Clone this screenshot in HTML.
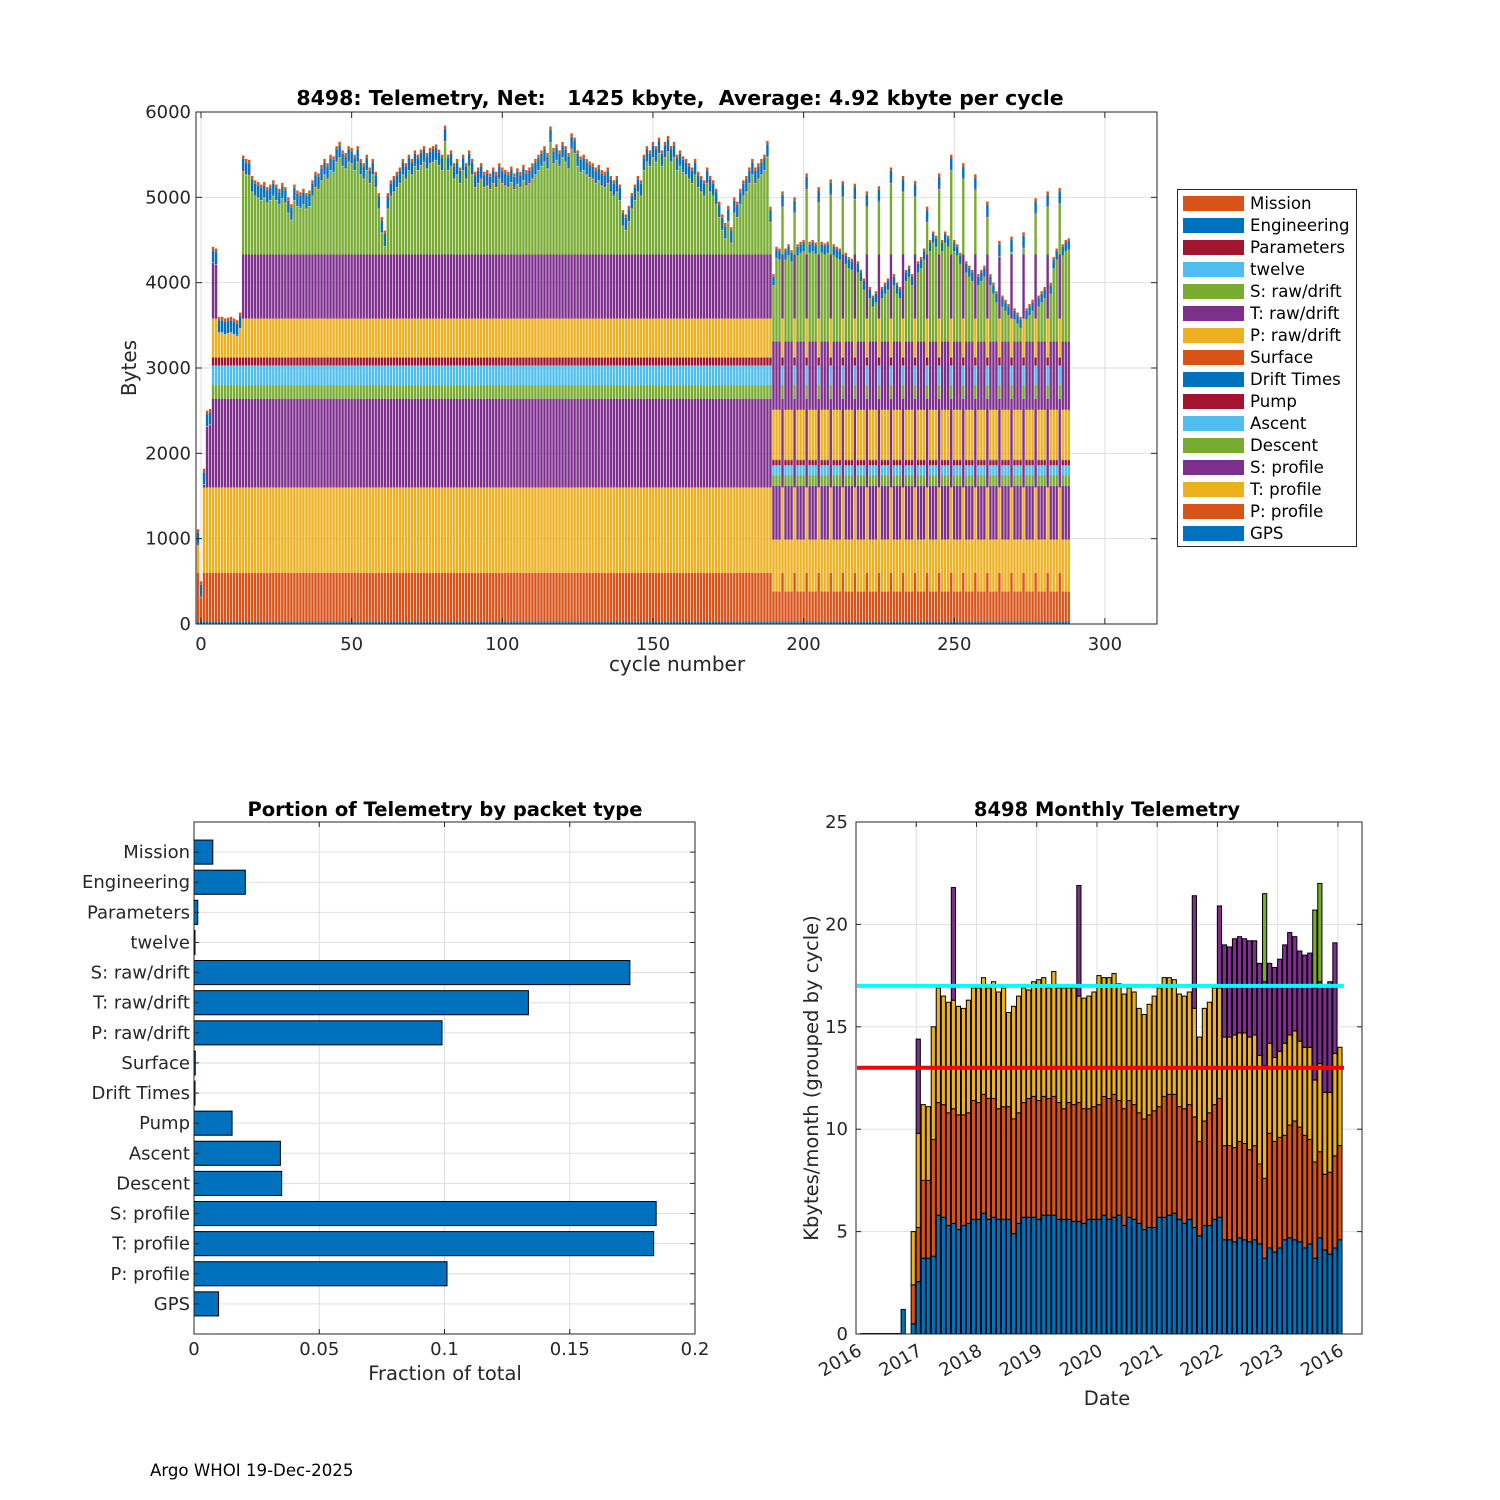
<!DOCTYPE html>
<html><head><meta charset="utf-8"><style>
html,body{margin:0;padding:0;background:#fff;}
svg{display:block;font-family:"DejaVu Sans","Liberation Sans",sans-serif;}
</style></head><body>
<svg id="fig" width="1500" height="1500" viewBox="0 0 1500 1500" xmlns="http://www.w3.org/2000/svg">
<rect x="0" y="0" width="1500" height="1500" fill="#fff"/>
<g id="top"></g>
<g id="bl"></g>
<g id="br"></g>
<text x="150" y="1476" font-size="16.6" fill="#000">Argo WHOI 19-Dec-2025</text>
</svg>
<script>
// ---------- TOP CHART DATA ----------
const layerNames = ['GPS','P: profile','T: profile','S: profile','Descent','Ascent','Pump','Drift Times','Surface','P: raw/drift','T: raw/drift','S: raw/drift','twelve','Parameters','Engineering','Mission'];
const layerColors = ['#0072BD','#D95319','#EDB120','#7E2F8E','#77AC30','#4DBEEE','#A2142F','#0072BD','#D95319','#EDB120','#7E2F8E','#77AC30','#4DBEEE','#A2142F','#0072BD','#D95319'];
const fullProfileBytes = [30,570,1000,1040,160,230,90,5,5,450,750,0,10,10,130,40];
const reducedProfileBytes = [30,350,610,630,120,120,60,5,5,580,800,0,0,0,100,30];
const firstCycle = -1;
const reducedFromCycle = 190;
const fullProfileCycles = [193,197,201,205,209,213,217,221,225,229,233,237,241,245,249,253,257,261,265,269,273,277,281,285];
const cycleTotals = [
1110,500,
1820,2500,2520,4420,4400,3600,3600,3580,3590,3600,
3580,3560,3650,5490,5450,5440,5250,5200,5180,5150,
5180,5120,5150,5200,5150,5100,5170,5120,5000,4920,
5150,5080,5060,5100,5050,5080,5200,5300,5280,5380,
5450,5400,5500,5480,5600,5650,5550,5520,5600,5580,
5500,5600,5450,5400,5500,5350,5450,5300,5050,4770,
4610,5050,5200,5250,5300,5350,5450,5400,5500,5450,
5550,5500,5560,5600,5520,5580,5600,5620,5560,5500,
5840,5500,5550,5400,5450,5350,5500,5400,5550,5450,
5300,5350,5400,5300,5320,5280,5350,5300,5400,5350,
5320,5300,5360,5280,5340,5300,5380,5320,5350,5400,
5450,5500,5550,5600,5520,5830,5580,5620,5550,5650,
5600,5520,5750,5700,5550,5480,5500,5450,5420,5400,
5350,5380,5320,5300,5350,5250,5200,5250,5150,4850,
4800,4900,5050,5150,5250,5200,5500,5600,5550,5650,
5600,5700,5550,5650,5720,5600,5650,5500,5550,5480,
5450,5400,5350,5450,5300,5250,5200,5350,5250,5200,
5100,4950,4800,4700,4900,4650,5000,4950,5100,5200,
5250,5350,5450,5350,5400,5450,5500,5660,4890,4100,
4420,4400,5070,4400,4450,4380,5000,4450,4480,4500,
5280,4480,4500,4470,5120,4480,4460,4480,5210,4450,
4420,4400,5190,4350,4300,4280,5160,4250,4150,4050,
5070,3950,3850,3900,5130,3950,4000,4050,5350,4100,
4000,3950,5250,4150,4200,4100,5190,4250,4300,4400,
4890,4500,4600,4550,5280,4500,4600,4550,5500,4500,
4450,4350,5400,4250,4200,4150,5270,4100,4150,4200,
4950,4100,4000,3900,4490,3850,3800,3750,4540,3700,
3650,3600,4590,3700,3750,3800,4990,3850,3900,3950,
5070,4000,4300,4400,5110,4450,4500,4520];
const topXTicks = [0,50,100,150,200,250,300];
const topYTicks = [0,1000,2000,3000,4000,5000,6000];

// ---------- BOTTOM-LEFT DATA ----------
const packetTypes = ['Mission','Engineering','Parameters','twelve','S: raw/drift','T: raw/drift','P: raw/drift','Surface','Drift Times','Pump','Ascent','Descent','S: profile','T: profile','P: profile','GPS'];
const packetFractions = [0.0075,0.0205,0.0015,0.0004,0.174,0.1335,0.099,0.0005,0.0004,0.0152,0.0345,0.035,0.1845,0.1835,0.101,0.0098];
const fracTicks = [0,0.05,0.1,0.15,0.2];
const fracTickLabels = ['0','0.05','0.1','0.15','0.2'];

// ---------- BOTTOM-RIGHT DATA ----------
const monthIndex = [1,2,3,4,5,6,7,8,9,11,12,13,14,15,16,17,18,19,20,21,22,23,24,25,26,27,28,29,30,31,32,33,34,35,36,37,38,39,40,41,42,43,44,45,46,47,48,49,50,51,52,53,54,55,56,57,58,59,60,61,62,63,64,65,66,67,68,69,70,71,72,73,74,75,76,77,78,79,80,81,82,83,84,85,86,87,88,89,90,91,92,93,94,95,96];
const gpsTop = [0,0,0,0,0,0,0,0,1.2,
0.5,2.55,3.7,3.7,3.8,5.8,5.7,5.3,5.4,5.1,
5.3,5.4,5.6,5.6,5.9,5.6,5.7,5.6,5.6,5.6,
4.9,5.4,5.7,5.7,5.7,5.6,5.8,5.8,5.8,5.6,
5.6,5.6,5.5,5.5,5.4,5.6,5.6,5.6,5.8,5.6,
5.7,5.8,5.3,5.7,5.6,5.4,5.1,5.2,5.2,5.7,
5.7,5.8,5.9,5.6,5.4,5.6,5.2,4.8,5.3,5.3,
5.6,5.7,4.6,4.6,4.5,4.7,4.6,4.5,4.6,4.4,
3.7,4.2,4.0,4.2,4.6,4.7,4.6,4.5,4.2,4.4,
3.7,4.7,4.1,3.9,4.2,4.6];
const profileTop = [0,0,0,0,0,0,0,0,1.2,
2.4,5.2,7.5,7.5,9.5,11.3,11.2,10.8,11.0,10.7,
10.7,10.8,11.4,11.3,11.7,11.5,11.5,11.0,11.1,11.1,
10.5,10.8,11.3,11.5,11.6,11.4,11.6,11.5,11.6,11.3,
11.0,11.3,11.2,11.3,11.0,11.0,11.1,11.2,11.6,11.5,
11.7,11.4,11.0,11.4,11.2,10.8,10.5,10.7,10.9,11.1,
11.6,11.7,11.7,11.1,11.0,11.2,10.6,9.4,10.4,10.8,
11.2,11.5,9.2,9.2,9.1,9.4,9.3,9.0,9.2,8.3,
7.6,9.8,9.4,9.6,9.7,10.2,10.4,10.1,9.7,9.5,
8.4,8.9,7.8,7.9,8.7,9.2];
const rawTop = [0,0,0,0,0,0,0,0,1.2,
5.0,9.8,11.2,11.1,15.0,16.9,16.5,16.2,16.3,16.0,
15.9,16.3,16.9,16.9,17.4,16.9,17.2,16.7,16.9,15.7,
16.0,16.5,16.9,16.8,17.2,17.3,17.4,16.9,17.7,16.9,
16.9,16.9,16.9,16.5,16.4,16.5,16.7,17.5,17.4,17.4,
17.6,17.1,16.6,16.9,16.7,15.9,15.6,16.1,16.5,16.9,
17.4,17.4,17.3,16.6,16.5,16.7,15.9,14.5,15.9,16.2,
16.9,16.9,14.5,14.5,14.6,14.7,14.7,14.5,14.6,13.6,
13.1,14.2,13.5,13.8,14.2,14.6,14.8,14.3,14.0,14.0,
12.4,13.2,11.8,11.8,13.7,14.0];
const driftTop = [0,0,0,0,0,0,0,0,1.2,
5.0,14.4,11.2,11.1,15.0,16.9,16.5,16.2,21.8,16.0,
15.9,16.3,16.9,16.9,17.4,16.9,17.2,16.7,16.9,15.7,
16.0,16.5,16.9,16.8,17.2,17.3,17.4,16.9,17.7,16.9,
16.9,16.9,16.9,21.9,16.4,16.5,16.7,17.5,17.4,17.4,
17.6,17.1,16.6,16.9,16.7,15.9,15.6,16.1,16.5,16.9,
17.4,17.4,17.3,16.6,16.5,16.7,21.4,14.5,15.9,16.2,
16.9,20.9,19.0,18.9,19.3,19.4,19.3,19.2,19.2,18.1,
17.2,18.1,17.9,18.3,19.0,19.6,19.4,18.7,18.5,18.6,
16.9,17.2,17.0,17.2,19.1,14.0];
const otherTop = [0,0,0,0,0,0,0,0,1.2,
5.0,14.4,11.2,11.1,15.0,16.9,16.5,16.2,21.8,16.0,
15.9,16.3,16.9,16.9,17.4,16.9,17.2,16.7,16.9,15.7,
16.0,16.5,16.9,16.8,17.2,17.3,17.4,16.9,17.7,16.9,
16.9,16.9,16.9,21.9,16.4,16.5,16.7,17.5,17.4,17.4,
17.6,17.1,16.6,16.9,16.7,15.9,15.6,16.1,16.5,16.9,
17.4,17.4,17.3,16.6,16.5,16.7,21.4,14.5,15.9,16.2,
16.9,20.9,19.0,18.9,19.3,19.4,19.3,19.2,19.2,18.1,
21.5,18.1,17.9,18.3,19.0,19.6,19.4,18.7,18.5,18.6,
20.7,22.0,17.0,17.2,19.1,14.0];
const monthlyMean = 17.0;
const monthlyMedian = 13.0;
const monthYTicks = [0,5,10,15,20,25];
const dateTickMonths = [0,12,24,36,48,60,72,84,96];
const dateTickLabels = ['2016','2017','2018','2019','2020','2021','2022','2023','2016'];

const NS='http://www.w3.org/2000/svg';
function mk(parent, tag, attrs, text){
  const e=document.createElementNS(NS,tag);
  for(const k in attrs) e.setAttribute(k,attrs[k]);
  if(text!==undefined) e.textContent=text;
  parent.appendChild(e); return e;
}
const AX='#262626', GRID='#dfdfdf', TFS=18;

// ================= TOP CHART =================
(function(){
  const g=document.getElementById('top');
  const L=196,R=1157,T=112,B=624;
  const x0=201, pxPerCycle=3.013;
  const xs=c=>x0+c*pxPerCycle;
  const ys=v=>B-(v/6000)*(B-T);
  topXTicks.forEach(t=>{const l=mk(g,'line',{x1:xs(t),x2:xs(t),y1:T,y2:B,stroke:GRID,'stroke-width':1});
    
    });
  topYTicks.forEach(t=>{const l=mk(g,'line',{x1:L,x2:R,y1:ys(t),y2:ys(t),stroke:GRID,'stroke-width':1});
    
    });
  const bars=mk(g,'g',{});
  
  
  cycleTotals.forEach((total,i)=>{
    const c=firstCycle+i;
    const isFull = c<reducedFromCycle || fullProfileCycles.indexOf(c)>=0;
    const lay = (isFull?fullProfileBytes:reducedProfileBytes).slice();
    const topSum = lay[12]+lay[13]+lay[14]+lay[15];
    let bottomSum=0; for(let k=0;k<11;k++) bottomSum+=lay[k];
    let avail = total-topSum;
    lay[11] = Math.max(0, avail-bottomSum);
    let acc=0;
    const bg=mk(bars,'g',{});
    
    
    for(let k=0;k<16;k++){
      let h=lay[k];
      if(k<11 && acc+h>avail) h=Math.max(0,avail-acc);
      if(h<=0) continue;
      const r=mk(bg,'rect',{x:(xs(c)-1.2).toFixed(2),y:ys(acc+h).toFixed(2),width:2.4,height:(ys(acc)-ys(acc+h)).toFixed(2),fill:layerColors[k]});
      
      
      acc+=h;
    }
  });
  const box=mk(g,'rect',{x:L,y:T,width:R-L,height:B-T,fill:'none',stroke:AX,'stroke-width':1});
  
  
  topXTicks.forEach(t=>{
    mk(g,'line',{x1:xs(t),x2:xs(t),y1:B,y2:B-6,stroke:AX});
    mk(g,'line',{x1:xs(t),x2:xs(t),y1:T,y2:T+6,stroke:AX});
    const tx=mk(g,'text',{x:xs(t),y:B+26,'font-size':TFS,'text-anchor':'middle',fill:AX},String(t));
    
    
  });
  topYTicks.forEach(t=>{
    mk(g,'line',{x1:L,x2:L+6,y1:ys(t),y2:ys(t),stroke:AX});
    mk(g,'line',{x1:R,x2:R-6,y1:ys(t),y2:ys(t),stroke:AX});
    const tx=mk(g,'text',{x:L-5,y:ys(t)+6,'font-size':TFS,'text-anchor':'end',fill:AX},String(t));
    
    
  });
  const ti=mk(g,'text',{x:680,y:105,'font-size':20.5,'font-weight':'bold','text-anchor':'middle',fill:'#000','xml:space':'preserve'},'8498: Telemetry, Net:   1425 kbyte,  Average: 4.92 kbyte per cycle');
  ti.setAttribute('style','white-space:pre');
  
  
  const xl=mk(g,'text',{x:677,y:671,'font-size':20,'text-anchor':'middle',fill:AX},'cycle number');
  
  
  const yl=mk(g,'text',{x:0,y:0,'font-size':20,'text-anchor':'middle',fill:AX,transform:'translate(136,368) rotate(-90)'},'Bytes');
  
  
  const lg=mk(g,'g',{});
  
  
  mk(lg,'rect',{x:1177.5,y:189.5,width:179,height:357,fill:'#fff',stroke:AX,'stroke-width':1});
  for(let k=15;k>=0;k--){
    const row=15-k, cy=203+row*22;
    const e=mk(lg,'g',{});
    
    
    mk(e,'rect',{x:1183,y:cy-7,width:61,height:15,fill:layerColors[k]});
    mk(e,'text',{x:1250,y:cy+6,'font-size':16.6,fill:'#000'},layerNames[k]);
  }
})();

// ================= BOTTOM-LEFT CHART =================
(function(){
  const g=document.getElementById('bl');
  const L=194,R=695,T=822,B=1334;
  const xs=v=>L+(v/0.2)*(R-L);
  const n=packetTypes.length;
  const step=(B-T)/(n+1);
  const yc=i=>T+(i+1)*step;
  fracTicks.forEach(t=>{const l=mk(g,'line',{x1:xs(t),x2:xs(t),y1:T,y2:B,stroke:GRID});
    
    });
  packetTypes.forEach((p,i)=>{const l=mk(g,'line',{x1:L,x2:R,y1:yc(i),y2:yc(i),stroke:GRID});
    
    });
  packetFractions.forEach((v,i)=>{
    const r=mk(g,'rect',{x:xs(0),y:yc(i)-step*0.4,width:Math.max(0.5,xs(v)-xs(0)),height:step*0.8,fill:'#0072BD',stroke:'#000','stroke-width':1});
    
    
  });
  const box=mk(g,'rect',{x:L,y:T,width:R-L,height:B-T,fill:'none',stroke:AX});
  
  
  fracTicks.forEach((t,i)=>{
    mk(g,'line',{x1:xs(t),x2:xs(t),y1:B,y2:B-5,stroke:AX});
    mk(g,'line',{x1:xs(t),x2:xs(t),y1:T,y2:T+5,stroke:AX});
    const tx=mk(g,'text',{x:xs(t),y:B+21,'font-size':TFS,'text-anchor':'middle',fill:AX},fracTickLabels[i]);
    
    
  });
  packetTypes.forEach((p,i)=>{
    mk(g,'line',{x1:L,x2:L+5,y1:yc(i),y2:yc(i),stroke:AX});
    mk(g,'line',{x1:R,x2:R-5,y1:yc(i),y2:yc(i),stroke:AX});
    const tx=mk(g,'text',{x:L-4,y:yc(i)+6,'font-size':TFS,'text-anchor':'end',fill:AX},p);
    
    
  });
  const ti=mk(g,'text',{x:445,y:816,'font-size':19.5,'font-weight':'bold','text-anchor':'middle',fill:'#000'},'Portion of Telemetry by packet type');
  
  
  const xl=mk(g,'text',{x:445,y:1380,'font-size':19.5,'text-anchor':'middle',fill:AX},'Fraction of total');
  
  
})();

// ================= BOTTOM-RIGHT CHART =================
(function(){
  const g=document.getElementById('br');
  const L=856,R=1362,T=822,B=1334;
  const pxPerMonth=5.02;
  const xs=m=>L+m*pxPerMonth;
  const ys=v=>B-(v/25)*(B-T);
  dateTickMonths.forEach(m=>{const l=mk(g,'line',{x1:xs(m),x2:xs(m),y1:T,y2:B,stroke:GRID});
    
    });
  monthYTicks.forEach(t=>{const l=mk(g,'line',{x1:L,x2:R,y1:ys(t),y2:ys(t),stroke:GRID});
    
    });
  const series=[gpsTop,profileTop,rawTop,driftTop,otherTop];
  const cols=['#0072BD','#D95319','#EDB120','#7E2F8E','#77AC30'];
  const segNames=['gps','profile','raw','drift','other'];
  monthIndex.forEach((m,i)=>{
    const cx=xs(m+0.4);
    const bg=mk(g,'g',{});
    
    
    let prev=0;
    series.forEach((s,k)=>{
      const top=s[i];
      if(top<=prev && !(k===0 && top===0)) return;
      const h=Math.max(0.5,ys(prev)-ys(top));
      const r=mk(bg,'rect',{x:(cx-2.1).toFixed(2),y:(ys(prev)-h).toFixed(2),width:4.2,height:h.toFixed(2),fill:cols[k],stroke:'#000','stroke-width':1});
      
      
      prev=Math.max(prev,top);
    });
  });
  const lineX1=xs(0.2), lineX2=xs(monthIndex[monthIndex.length-1]+1.2);
  const mean=mk(g,'line',{x1:lineX1,x2:lineX2,y1:ys(monthlyMean),y2:ys(monthlyMean),stroke:'#00FFFF','stroke-width':4});
  
  
  const med=mk(g,'line',{x1:lineX1,x2:lineX2,y1:ys(monthlyMedian),y2:ys(monthlyMedian),stroke:'#FF0000','stroke-width':4});
  
  
  const ax=mk(g,'rect',{x:L,y:T,width:R-L,height:B-T,fill:'none',stroke:AX});
  
  
  dateTickMonths.forEach((m,i)=>{
    mk(g,'line',{x1:xs(m),x2:xs(m),y1:B,y2:B-5,stroke:AX});
    mk(g,'line',{x1:xs(m),x2:xs(m),y1:T,y2:T+5,stroke:AX});
    const tx=mk(g,'text',{x:0,y:0,'font-size':TFS,'text-anchor':'end',fill:AX,transform:'translate('+(xs(m)+7)+','+(B+20)+') rotate(-30)'},dateTickLabels[i]);
    
    
  });
  monthYTicks.forEach(t=>{
    mk(g,'line',{x1:L,x2:L+5,y1:ys(t),y2:ys(t),stroke:AX});
    mk(g,'line',{x1:R,x2:R-5,y1:ys(t),y2:ys(t),stroke:AX});
    const tx=mk(g,'text',{x:L-8,y:ys(t)+6,'font-size':TFS,'text-anchor':'end',fill:AX},String(t));
    
    
  });
  const ti=mk(g,'text',{x:1107,y:816,'font-size':19.5,'font-weight':'bold','text-anchor':'middle',fill:'#000'},'8498 Monthly Telemetry');
  
  
  const xl=mk(g,'text',{x:1107,y:1405,'font-size':19.5,'text-anchor':'middle',fill:AX},'Date');
  
  
  const yl=mk(g,'text',{x:0,y:0,'font-size':19.5,'text-anchor':'middle',fill:AX,transform:'translate(818,1078) rotate(-90)'},'Kbytes/month (grouped by cycle)');
  
  
})();
</script>
</body></html>
